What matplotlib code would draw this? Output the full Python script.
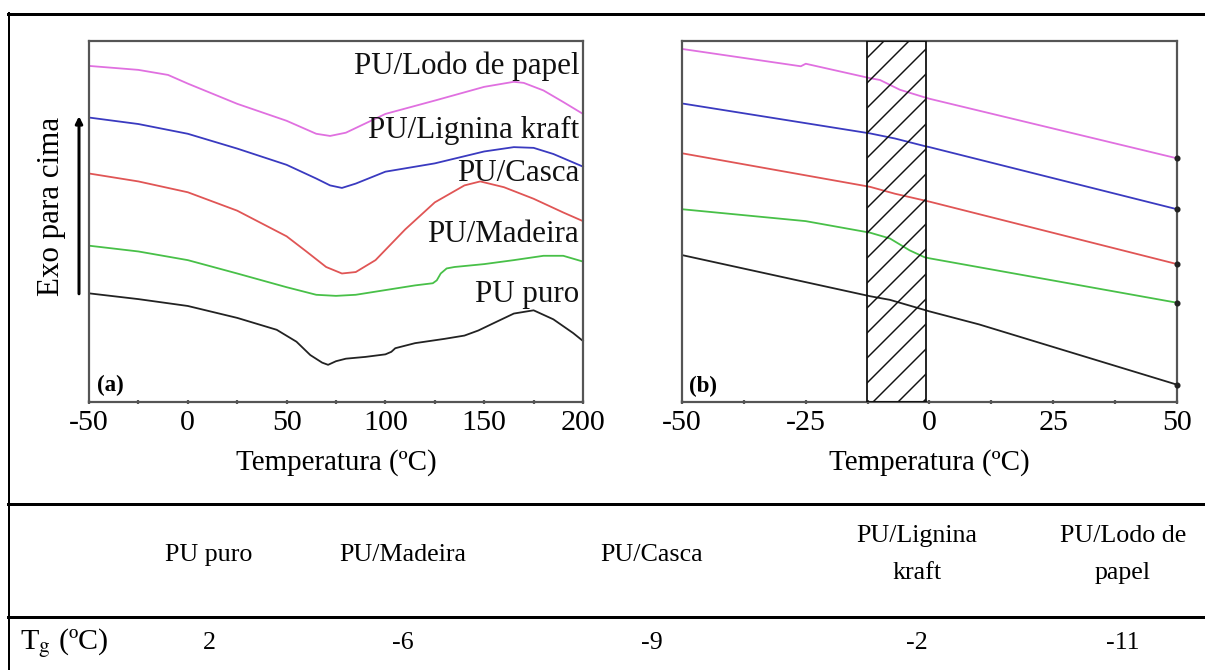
import matplotlib
matplotlib.use("Agg")
import matplotlib.pyplot as plt
from matplotlib.lines import Line2D
from matplotlib.ticker import MultipleLocator
from matplotlib.transforms import ScaledTranslation

# ---------------- data ----------------
# Panel (a): DSC curves, y in arbitrary units (0-100 of the frame)
x_lodo_a = [-50, -25, -10, 0, 25, 50, 65, 72, 80, 100, 125, 150, 165, 170, 180, 190, 200]
y_lodo_a = [93.1, 92.0, 90.6, 88.2, 82.6, 77.9, 74.3, 73.7, 74.6, 79.8, 83.5, 87.3, 88.7, 88.4, 86.3, 83.1, 79.8]

x_lig_a = [-50, -25, 0, 25, 50, 65, 72, 78, 85, 100, 125, 150, 165, 175, 185, 200]
y_lig_a = [78.8, 77.0, 74.3, 70.2, 65.7, 61.9, 60.0, 59.3, 60.5, 63.8, 66.1, 69.4, 70.6, 70.4, 68.7, 65.2]

x_casca_a = [-50, -25, 0, 25, 50, 60, 70, 78, 85, 95, 110, 125, 140, 148, 160, 175, 190, 200]
y_casca_a = [63.3, 61.1, 58.1, 53.0, 45.9, 41.7, 37.4, 35.6, 36.0, 39.3, 47.8, 55.3, 60.0, 61.1, 59.5, 56.3, 52.5, 50.1]

x_mad_a = [-50, -25, 0, 25, 50, 65, 75, 85, 100, 115, 124, 126, 128, 131, 135, 150, 165, 180, 190, 200]
y_mad_a = [43.3, 41.7, 39.3, 35.6, 31.8, 29.7, 29.4, 29.7, 31.0, 32.3, 32.9, 33.7, 35.6, 37.0, 37.4, 38.2, 39.3, 40.5, 40.5, 38.9]

x_puro_a = [-50, -25, 0, 25, 45, 55, 62, 68, 71, 75, 80, 90, 100, 103, 105, 115, 130, 140, 147, 155, 165, 175, 185, 195, 200]
y_puro_a = [30.1, 28.5, 26.6, 23.3, 20.0, 16.7, 13.0, 10.9, 10.3, 11.3, 12.0, 12.5, 13.2, 13.9, 14.9, 16.3, 17.5, 18.4, 19.8, 21.9, 24.5, 25.4, 22.9, 19.1, 16.9]

# Panel (b): zoom on the glass transition region
x_lodo_b = [-50, -26, -25, -12, -10, -6, -1, 0, 50]
y_lodo_b = [97.8, 93.0, 93.7, 89.7, 89.2, 86.5, 84.4, 84.0, 67.5]

x_lig_b = [-50, -12, -7, -1, 0, 50]
y_lig_b = [82.7, 74.4, 73.0, 70.9, 70.6, 53.4]

x_casca_b = [-50, -12, -7, 0, 50]
y_casca_b = [68.9, 59.6, 57.7, 55.5, 38.2]

x_mad_b = [-50, -25, -12, -8, -4, -1, 0, 50]
y_mad_b = [53.4, 50.1, 46.9, 45.3, 42.0, 40.1, 39.8, 27.5]

x_puro_b = [-50, -12, -8, -1, 0, 10, 50]
y_puro_b = [40.7, 29.3, 28.3, 25.5, 25.1, 21.5, 4.8]

hatch_range = [-12.6, -0.7]

curve_labels = ["PU/Lodo de papel", "PU/Lignina kraft", "PU/Casca", "PU/Madeira", "PU puro"]
label_y = [93.1, 75.1, 63.3, 46.4, 29.9]

xticks_a = [-50, 0, 50, 100, 150, 200]
xticks_b = [-50, -25, 0, 25, 50]

table_header = ["PU puro", "PU/Madeira", "PU/Casca", "PU/Lignina\nkraft", "PU/Lodo de\npapel"]
table_tg = ["2", "-6", "-9", "-2", "-11"]

# ---------------- style ----------------
W, H, DPI = 1206, 670, 150
plt.rcParams['font.family'] = ['Liberation Serif', 'DejaVu Serif']
plt.rcParams['mathtext.fontset'] = 'stix'
plt.rcParams['axes.unicode_minus'] = False
plt.rcParams['hatch.linewidth'] = 0.7
plt.rcParams['hatch.color'] = '#111111'


def pt(px):
    return px * 72.0 / DPI


def fx(x):
    return x / W


def fy(y):
    return 1 - y / H


col_lodo = '#e070e0'
col_lig = '#3a3ac0'
col_casca = '#e05555'
col_mad = '#48c048'
col_puro = '#222222'
spine_col = '#555555'
lw = pt(1.8)

fig = plt.figure(figsize=(W / DPI, H / DPI), dpi=DPI)
fig.patch.set_facecolor('white')

top, bot = 41, 402
ax_a = fig.add_axes([fx(89), fy(bot), (583 - 89) / W, (bot - top) / H])
ax_b = fig.add_axes([fx(682), fy(bot), (1177 - 682) / W, (bot - top) / H])

tick_fs = pt(30)
lab_fs = pt(29)

for ax, data, xlim, ticks, minor, shift in [
    (ax_a, [(x_lodo_a, y_lodo_a, col_lodo), (x_lig_a, y_lig_a, col_lig), (x_casca_a, y_casca_a, col_casca),
            (x_mad_a, y_mad_a, col_mad), (x_puro_a, y_puro_a, col_puro)], (-50, 200), xticks_a, 25, 9),
    (ax_b, [(x_lodo_b, y_lodo_b, col_lodo), (x_lig_b, y_lig_b, col_lig), (x_casca_b, y_casca_b, col_casca),
            (x_mad_b, y_mad_b, col_mad), (x_puro_b, y_puro_b, col_puro)], (-50, 50), xticks_b, 12.5, 5),
]:
    for xs, ys, c in data:
        ax.plot(xs, ys, color=c, lw=lw, solid_joinstyle='round', clip_on=False)
    ax.set_xlim(*xlim)
    ax.set_ylim(0, 100)
    ax.set_xticks(ticks)
    ax.xaxis.set_minor_locator(MultipleLocator(minor))
    ax.set_yticks([])
    ax.tick_params(axis='x', which='both', direction='inout', length=pt(4), width=pt(2.2),
                   color=spine_col, labelsize=tick_fs, pad=pt(6))
    for s in ax.spines.values():
        s.set_color(spine_col)
        s.set_linewidth(pt(2.2))
    ax.set_xlabel("Temperatura (ºC)", fontsize=lab_fs, labelpad=pt(13))
    # negative labels sit a little to the left of their tick in the original
    for t in ax.xaxis.get_major_ticks():
        if t.get_loc() < 0:
            t.label1.set_transform(t.label1.get_transform() +
                                   ScaledTranslation(-shift / DPI, 0, fig.dpi_scale_trans))

# end-point dots on the right frame of panel (b)
for ys in [y_lodo_b, y_lig_b, y_casca_b, y_mad_b, y_puro_b]:
    ax_b.plot([x_lodo_b[-1]], [ys[-1]], 'o', ms=pt(4), color='#222222', clip_on=False, zorder=4)

ax_b.axvspan(hatch_range[0], hatch_range[1], facecolor='none', edgecolor='#111111',
             hatch='//', lw=pt(1.8), zorder=3)

for txt, yv in zip(curve_labels, label_y):
    ax_a.text(198, yv, txt, ha='right', va='center', fontsize=pt(31), color='#111111')

ax_a.text(-46, 4.5, "(a)", ha='left', va='center', fontsize=pt(23), fontweight='bold')
ax_b.text(-48.5, 4.3, "(b)", ha='left', va='center', fontsize=pt(23), fontweight='bold')

# y label and arrow of panel (a)
fig.text(fx(52), fy(206), "Exo para cima", rotation=90, ha='center', va='center', fontsize=pt(31))
fig.add_artist(matplotlib.patches.FancyArrowPatch((fx(79), fy(298)), (fx(79), fy(112)),
                                                  transform=fig.transFigure, arrowstyle='-|>',
                                                  mutation_scale=pt(14), lw=pt(3), color='black'))

# ---------------- table frame ----------------
line_kw = dict(transform=fig.transFigure, color='black')
fig.add_artist(Line2D([fx(8), 1], [fy(14), fy(14)], lw=pt(3), **line_kw))
fig.add_artist(Line2D([fx(9), fx(9)], [fy(13), 0], lw=pt(2), **line_kw))
fig.add_artist(Line2D([fx(8), 1], [fy(504), fy(504)], lw=pt(3), **line_kw))
fig.add_artist(Line2D([fx(8), 1], [fy(617), fy(617)], lw=pt(3), **line_kw))

col_x = [209, 403, 652, 917, 1123]
tab_fs = pt(26)
for cx, h, v in zip(col_x, table_header, table_tg):
    if "\n" in h:
        l1, l2 = h.split("\n")
        fig.text(fx(cx), fy(536), l1, ha='center', va='center', fontsize=tab_fs)
        fig.text(fx(cx), fy(573), l2, ha='center', va='center', fontsize=tab_fs)
    else:
        fig.text(fx(cx), fy(555), h, ha='center', va='center', fontsize=tab_fs)
    fig.text(fx(cx), fy(643), v, ha='center', va='center', fontsize=tab_fs)

fig.text(fx(20), fy(643), r"T$_{\mathrm{g}}$ (ºC)", ha='left', va='center', fontsize=pt(30))

fig.savefig("out.png", dpi=DPI, facecolor='white')
